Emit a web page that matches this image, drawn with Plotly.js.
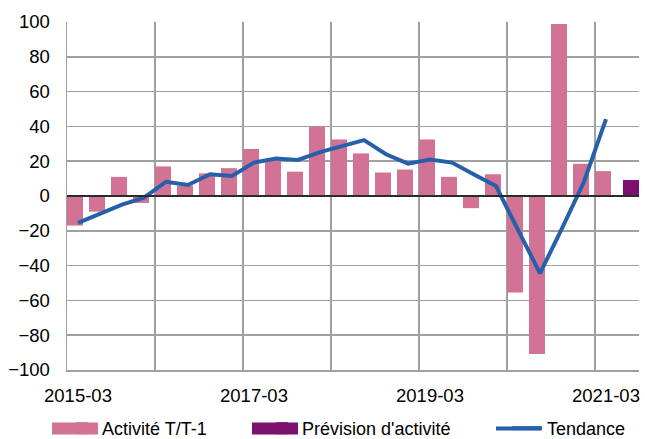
<!DOCTYPE html>
<html>
<head>
<meta charset="utf-8">
<script src="https://cdn.plot.ly/plotly-3.0.1.min.js"></script>
<style>html,body{margin:0;padding:0;background:#fff;}#chart{width:645px;height:439px;}</style>
</head>
<body>
<div id="chart"></div>
<script>
// Quarterly categories (last one = forecast quarter)
var categories = ['2015-03','2015-06','2015-09','2015-12','2016-03','2016-06','2016-09','2016-12',
  '2017-03','2017-06','2017-09','2017-12','2018-03','2018-06','2018-09','2018-12',
  '2019-03','2019-06','2019-09','2019-12','2020-03','2020-06','2020-09','2020-12',
  '2021-03','2021-06'];
// Activité T/T-1 (2015-03 .. 2021-03)
var activite = [-17, -9, 11, -4, 17, 6, 13, 16, 27, 21, 14, 40, 32.5, 24.5, 13.5, 15.2,
  32.5, 11, -7, 12.5, -55.4, -90.8, 98.8, 18.5, 14.3];
// Prévision d'activité (2021-06)
var previsionCats = ['2021-06'];
var prevision = [9.2];
// Tendance (2015-03 .. 2021-03)
var tendance = [-15.5, -10, -5, -1, 8.2, 6.3, 12.5, 11.5, 19.2, 21.6, 20.7, 25.2, 28.7, 32.1,
  24, 18.6, 21, 19.2, 12.3, 5.7, -19.5, -44.4, -18.6, 8.2, 44.2];
var yTickVals = [-100, -80, -60, -40, -20, 0, 20, 40, 60, 80, 100];

var pink = '#D27396', purple = '#7B106F', blue = '#2660AB';
var idx = function (c) { return categories.indexOf(c); };

var xAct = activite.map(function (_, i) { return i; });
var xPrev = previsionCats.map(idx);
var xTend = tendance.map(function (_, i) { return i; });

var labelIdx = [], gridPos = [];
for (var i = 0; i < categories.length; i += 8) labelIdx.push(i);
for (var j = 4; j < categories.length; j += 4) gridPos.push(j - 0.5);

var traces = [
  {type: 'bar', name: 'Activité T/T-1', x: xAct, y: activite,
   offset: -0.5, width: 0.727,
   marker: {color: pink, line: {width: 0}}, legend: 'legend'},
  {type: 'bar', name: "Prévision d'activité", x: xPrev, y: prevision,
   offset: -0.227, width: 0.727,
   marker: {color: purple, line: {width: 0}}, legend: 'legend2'},
  {type: 'scatter', mode: 'lines', name: 'Tendance', x: xTend, y: tendance,
   line: {color: blue, width: 4}, legend: 'legend3'}
];

var W = 645, H = 439;
var M = {l: 67, r: 6, t: 22, b: 69};
var PW = W - M.l - M.r, PH = H - M.t - M.b;
function px2x(px) { return (px - M.l) / PW; }
function py2y(py) { return 1 - (py - M.t) / PH; }

var font = {family: 'Liberation Sans, Arial, sans-serif', size: 18.5, color: '#000'};
var legFont = {family: 'Liberation Sans, Arial, sans-serif', size: 18, color: '#000'};
var legCY = 428.5;
function leg(px) {
  return {orientation: 'h', xref: 'container', yref: 'container',
    x: px / W, xanchor: 'left', y: 1 - legCY / H, yanchor: 'middle',
    bgcolor: 'rgba(0,0,0,0)', borderwidth: 0, font: legFont};
}

var layout = {
  width: W, height: H,
  margin: M,
  paper_bgcolor: '#fff', plot_bgcolor: '#fff',
  font: font,
  barmode: 'overlay',
  showlegend: true,
  legend: leg(62), legend2: leg(262), legend3: leg(507),
  xaxis: {
    type: 'linear', range: [-0.5, categories.length - 0.5], fixedrange: true,
    tickmode: 'array', tickvals: labelIdx, ticktext: labelIdx.map(function (k) { return categories[k]; }),
    showgrid: false, zeroline: false, ticks: '',
    showline: true, linecolor: '#A0A0A0', linewidth: 1.5,
    ticklabelstandoff: 8,
    minor: {tickmode: 'array', tickvals: gridPos, showgrid: true, gridcolor: '#A0A0A0', gridwidth: 1.5, ticks: ''},
    tickfont: font
  },
  yaxis: {
    range: [-100, 100], fixedrange: true,
    tickmode: 'array', tickvals: yTickVals,
    showgrid: true, gridcolor: '#A0A0A0', gridwidth: 1.5,
    zeroline: true, zerolinecolor: '#2b2b2b', zerolinewidth: 2.5, zerolinelayer: 'above traces',
    showline: true, linecolor: '#A0A0A0', linewidth: 1.5,
    ticks: '', ticklabelstandoff: 12,
    tickfont: font
  },
  shapes: [
    {type: 'rect', xref: 'paper', yref: 'paper', layer: 'below',
     x0: px2x(52), x1: px2x(98), y0: py2y(legCY - 6), y1: py2y(legCY + 6), fillcolor: pink, line: {width: 0}},
    {type: 'rect', xref: 'paper', yref: 'paper', layer: 'below',
     x0: px2x(252), x1: px2x(298), y0: py2y(legCY - 6), y1: py2y(legCY + 6), fillcolor: purple, line: {width: 0}},
    {type: 'line', xref: 'paper', yref: 'paper', layer: 'below',
     x0: px2x(496), x1: px2x(541), y0: py2y(legCY), y1: py2y(legCY), line: {color: blue, width: 4}}
  ]
};

Plotly.newPlot('chart', traces, layout, {displayModeBar: false, staticPlot: true});
</script>
</body>
</html>
